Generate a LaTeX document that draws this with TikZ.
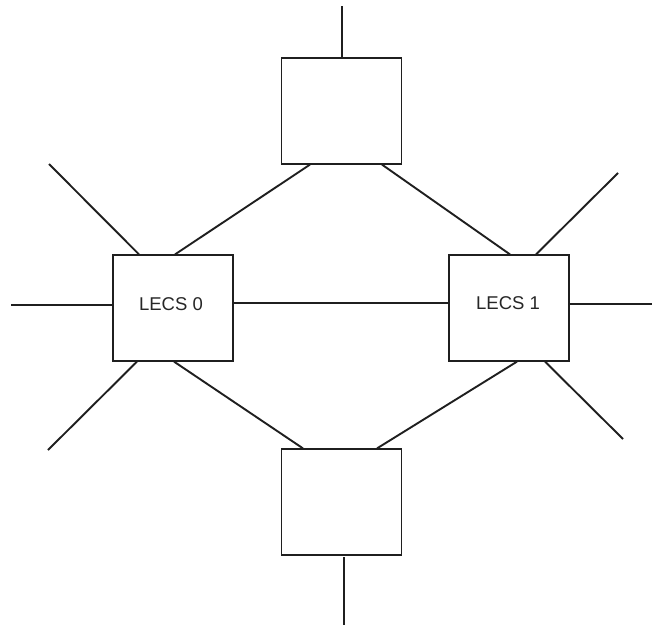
\documentclass[tikz,border=0pt]{standalone}
\usepackage{fontspec}
\setmainfont{Liberation Sans}
\begin{document}
\begin{tikzpicture}[x=1pt,y=-1pt,
  box/.style={draw=black!88,line width=1.2pt,minimum width=120pt,minimum height=106pt,inner sep=0pt},
  lbl/.style={font=\fontsize{18.5}{20}\selectfont,text=black!85},
  wire/.style={draw=black!88,line width=1.9pt}]
\useasboundingbox (0,0) rectangle (653,626);
\node[box] (top) at (341.5,111) {};
\node[box] (bot) at (341.5,502) {};
\node[box] (l0) at (173,308) {};
\node[box] (l1) at (509,308) {};
\node[lbl] (t0) at (171,304) {LECS 0};
\node[lbl] (t1) at (508,303) {LECS 1};
% free ends
\coordinate (topend) at (342,6);
\coordinate (botend) at (344,625);
\coordinate (botstart) at (344,557);
\coordinate (l0a) at (49,164);
\coordinate (l0b) at (11,305);
\coordinate (l0c) at (48,450);
\coordinate (l1a) at (618,173);
\coordinate (l1b) at (652,304);
\coordinate (l1c) at (623,439);
% stubs
\draw[wire] ([xshift=0.5pt]top.north) -- (topend);
\draw[wire] (botstart) -- (botend);
\draw[wire] ([xshift=-34pt]l0.north) -- (l0a);
\draw[wire] ([yshift=3pt]l0.west) -- (l0b);
\draw[wire] ([xshift=-36pt]l0.south) -- (l0c);
\draw[wire] ([xshift=27pt]l1.north) -- (l1a);
\draw[wire] ([yshift=4pt]l1.east) -- (l1b);
\draw[wire] ([xshift=36pt]l1.south) -- (l1c);
% connectors
\draw[wire] ([xshift=-31.5pt]top.south) -- ([xshift=2pt]l0.north);
\draw[wire] ([xshift=40.5pt]top.south) -- ([xshift=1pt]l1.north);
\draw[wire] ([xshift=1pt]l0.south) -- ([xshift=-38.5pt]bot.north);
\draw[wire] ([xshift=8pt]l1.south) -- ([xshift=35.5pt]bot.north);
\draw[wire] ([yshift=5pt]l0.east) -- ([yshift=5pt]l1.west);
\end{tikzpicture}
\end{document}
